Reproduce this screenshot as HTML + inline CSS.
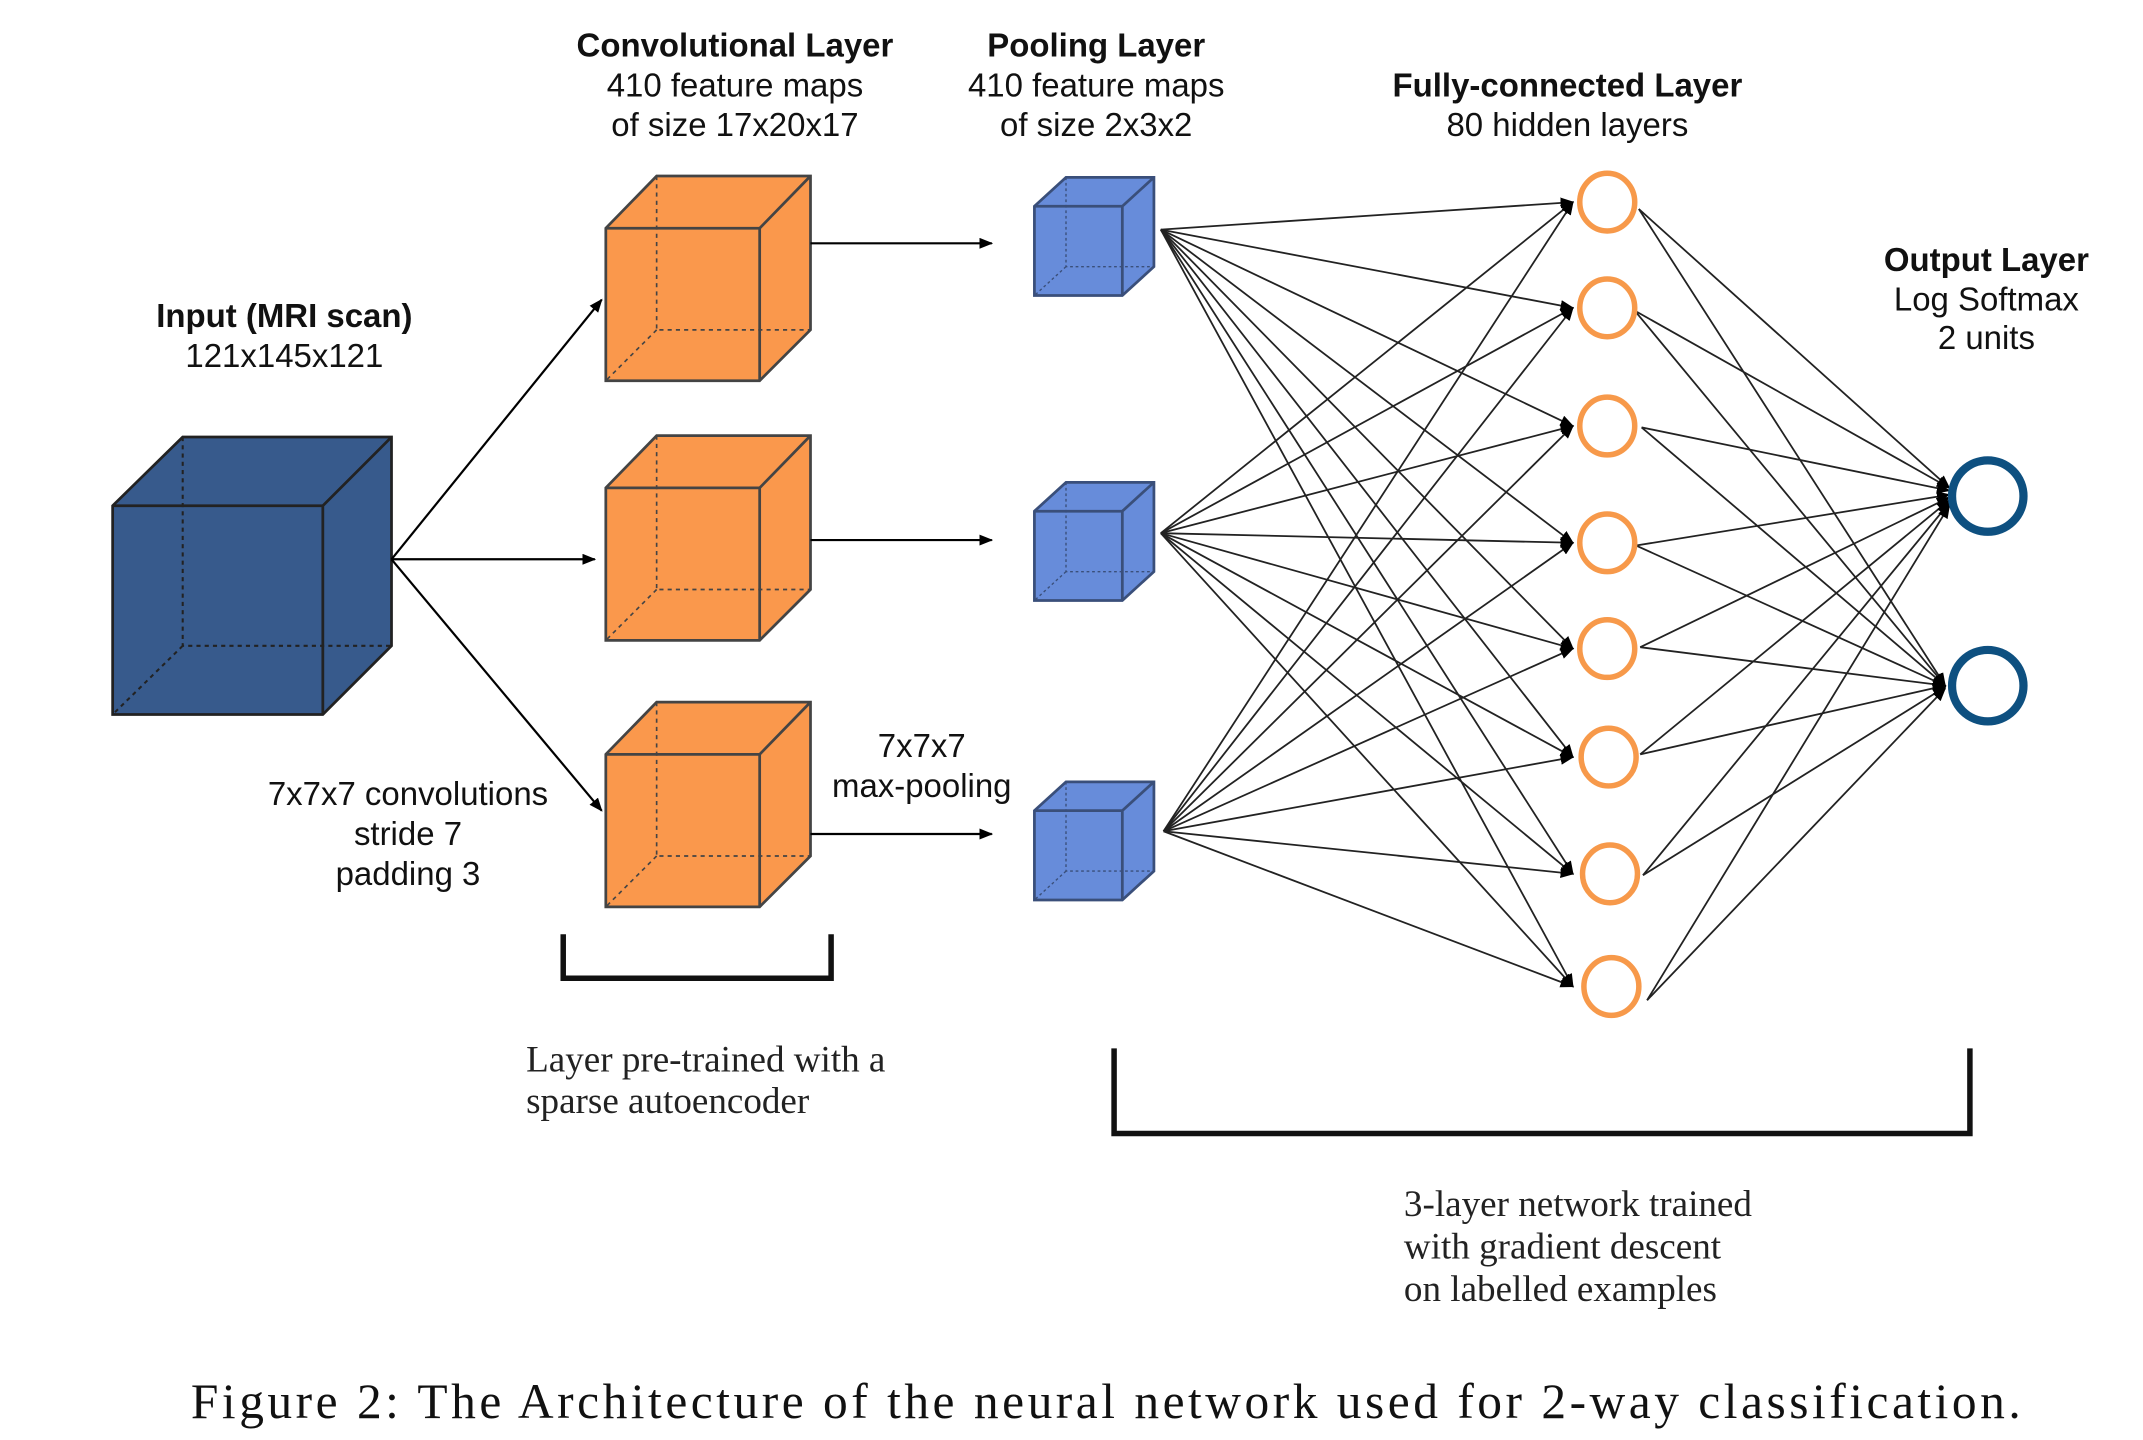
<!DOCTYPE html>
<html><head><meta charset="utf-8"><style>
html,body{margin:0;padding:0;background:#fff;}
svg{display:block;}
.s{font-family:"Liberation Sans",sans-serif;font-size:24px;fill:#111;text-anchor:middle;}
.b{font-weight:bold;}
.r{font-family:"Liberation Serif",serif;font-size:27px;fill:#222;}
</style></head><body>
<svg width="2143" height="1440" viewBox="0 0 1560 1048" xmlns="http://www.w3.org/2000/svg">
<defs><marker id="a" markerWidth="10" markerHeight="8" refX="9" refY="4" orient="auto" markerUnits="userSpaceOnUse"><path d="M0,0 L10,4 L0,8z" fill="#000"/></marker></defs>
<text class="s b" x="535" y="41">Convolutional Layer</text>
<text class="s" x="535" y="70">410 feature maps</text>
<text class="s" x="535" y="99">of size 17x20x17</text>
<text class="s b" x="798" y="41">Pooling Layer</text>
<text class="s" x="798" y="70">410 feature maps</text>
<text class="s" x="798" y="99">of size 2x3x2</text>
<text class="s b" x="1141" y="70">Fully-connected Layer</text>
<text class="s" x="1141" y="99">80 hidden layers</text>
<text class="s b" x="1446" y="197">Output Layer</text>
<text class="s" x="1446" y="226">Log Softmax</text>
<text class="s" x="1446" y="254">2 units</text>
<text class="s b" x="207" y="238">Input (MRI scan)</text>
<text class="s" x="207" y="267">121x145x121</text>
<text class="s" x="297" y="586">7x7x7 convolutions</text>
<text class="s" x="297" y="615">stride 7</text>
<text class="s" x="297" y="644">padding 3</text>
<text class="s" x="671" y="551">7x7x7</text>
<text class="s" x="671" y="580">max-pooling</text>
<g stroke="#222" stroke-width="2" fill="#375A8C">
<path d="M82,368 L133,318 L285,318 L285,470 L235,520 L82,520 Z"/>
<path d="M82,368 L235,368 L285,318 M235,368 L235,520" fill="none"/>
<path d="M133,318 L133,470 L285,470 M133,470 L82,520" fill="none" stroke-dasharray="3,3" stroke-width="1.5"/>
</g>
<g stroke="#444" stroke-width="2" fill="#FA984C">
<g id="oc"><path d="M441,166 L478,128 L590,128 L590,240 L553,277 L441,277 Z"/>
<path d="M441,166 L553,166 L590,128 M553,166 L553,277" fill="none"/>
<path d="M478,128 L478,240 L590,240 M478,240 L441,277" fill="none" stroke-dasharray="3,3" stroke-width="1.2"/></g>
<use href="#oc" y="189"/><use href="#oc" y="383"/>
</g>
<g stroke="#3a4f7a" stroke-width="2" fill="#678CDA">
<g id="bc"><path d="M753,150 L776,129 L840,129 L840,194 L817,215 L753,215 Z"/>
<path d="M753,150 L817,150 L840,129 M817,150 L817,215" fill="none"/>
<path d="M776,129 L776,194 L840,194 M776,194 L753,215" fill="none" stroke-dasharray="2,2" stroke-width="1"/></g>
<use href="#bc" y="222"/><use href="#bc" y="440"/>
</g>
<g stroke="#000" stroke-width="1.6" marker-end="url(#a)">
<line x1="285" y1="407" x2="438" y2="218"/>
<line x1="285" y1="407" x2="433" y2="407"/>
<line x1="285" y1="407" x2="438" y2="590"/>
<line x1="590" y1="177" x2="722" y2="177"/>
<line x1="590" y1="393" x2="722" y2="393"/>
<line x1="590" y1="607" x2="722" y2="607"/>
</g>
<g stroke="#222" stroke-width="1.3" marker-end="url(#a)">
<line x1="845" y1="167" x2="1145" y2="147"/><line x1="845" y1="167" x2="1145" y2="224"/><line x1="845" y1="167" x2="1145" y2="310"/><line x1="845" y1="167" x2="1145" y2="395"/><line x1="845" y1="167" x2="1145" y2="472"/><line x1="845" y1="167" x2="1145" y2="551"/><line x1="845" y1="167" x2="1145" y2="636"/><line x1="845" y1="167" x2="1145" y2="718"/>
<line x1="845" y1="388" x2="1145" y2="147"/><line x1="845" y1="388" x2="1145" y2="224"/><line x1="845" y1="388" x2="1145" y2="310"/><line x1="845" y1="388" x2="1145" y2="395"/><line x1="845" y1="388" x2="1145" y2="472"/><line x1="845" y1="388" x2="1145" y2="551"/><line x1="845" y1="388" x2="1145" y2="636"/><line x1="845" y1="388" x2="1145" y2="718"/>
<line x1="847" y1="605" x2="1145" y2="147"/><line x1="847" y1="605" x2="1145" y2="224"/><line x1="847" y1="605" x2="1145" y2="310"/><line x1="847" y1="605" x2="1145" y2="395"/><line x1="847" y1="605" x2="1145" y2="472"/><line x1="847" y1="605" x2="1145" y2="551"/><line x1="847" y1="605" x2="1145" y2="636"/><line x1="847" y1="605" x2="1145" y2="718"/>
<line x1="1193" y1="152" x2="1419" y2="355"/><line x1="1193" y1="152" x2="1416" y2="499"/>
<line x1="1190" y1="226" x2="1419" y2="355"/><line x1="1190" y1="226" x2="1416" y2="499"/>
<line x1="1195" y1="311" x2="1419" y2="357"/><line x1="1195" y1="311" x2="1416" y2="499"/>
<line x1="1191" y1="397" x2="1419" y2="360"/><line x1="1191" y1="397" x2="1416" y2="499"/>
<line x1="1194" y1="471" x2="1419" y2="362"/><line x1="1194" y1="471" x2="1416" y2="499"/>
<line x1="1194" y1="549" x2="1419" y2="364"/><line x1="1194" y1="549" x2="1416" y2="499"/>
<line x1="1196" y1="637" x2="1419" y2="366"/><line x1="1196" y1="637" x2="1416" y2="500"/>
<line x1="1199" y1="728" x2="1419" y2="368"/><line x1="1199" y1="728" x2="1416" y2="501"/>
</g>
<g fill="#fff" stroke="#F7994A" stroke-width="4">
<ellipse cx="1170" cy="147" rx="20" ry="21"/><ellipse cx="1170" cy="224" rx="20" ry="21"/><ellipse cx="1170" cy="310" rx="20" ry="21"/><ellipse cx="1170" cy="395" rx="20" ry="21"/><ellipse cx="1170" cy="472" rx="20" ry="21"/><ellipse cx="1171" cy="551" rx="20" ry="21"/><ellipse cx="1172" cy="636" rx="20" ry="21"/><ellipse cx="1173" cy="718" rx="20" ry="21"/>
</g>
<g fill="#fff" stroke="#0E5080" stroke-width="6">
<ellipse cx="1447" cy="361" rx="26" ry="26"/><ellipse cx="1447" cy="499" rx="26" ry="26"/>
</g>
<path d="M410,680 L410,712 L605,712 L605,680" fill="none" stroke="#111" stroke-width="4"/>
<path d="M811,763 L811,825 L1434,825 L1434,763" fill="none" stroke="#111" stroke-width="4"/>
<text class="r" x="383" y="780">Layer pre-trained with a</text>
<text class="r" x="383" y="810">sparse autoencoder</text>
<text class="r" x="1022" y="885">3-layer network trained</text>
<text class="r" x="1022" y="916">with gradient descent</text>
<text class="r" x="1022" y="947">on labelled examples</text>
<text x="805" y="1032" font-family="Liberation Serif, serif" font-size="36" fill="#111" text-anchor="middle" textLength="1332">Figure 2: The Architecture of the neural network used for 2-way classification.</text>
</svg>
</body></html>
